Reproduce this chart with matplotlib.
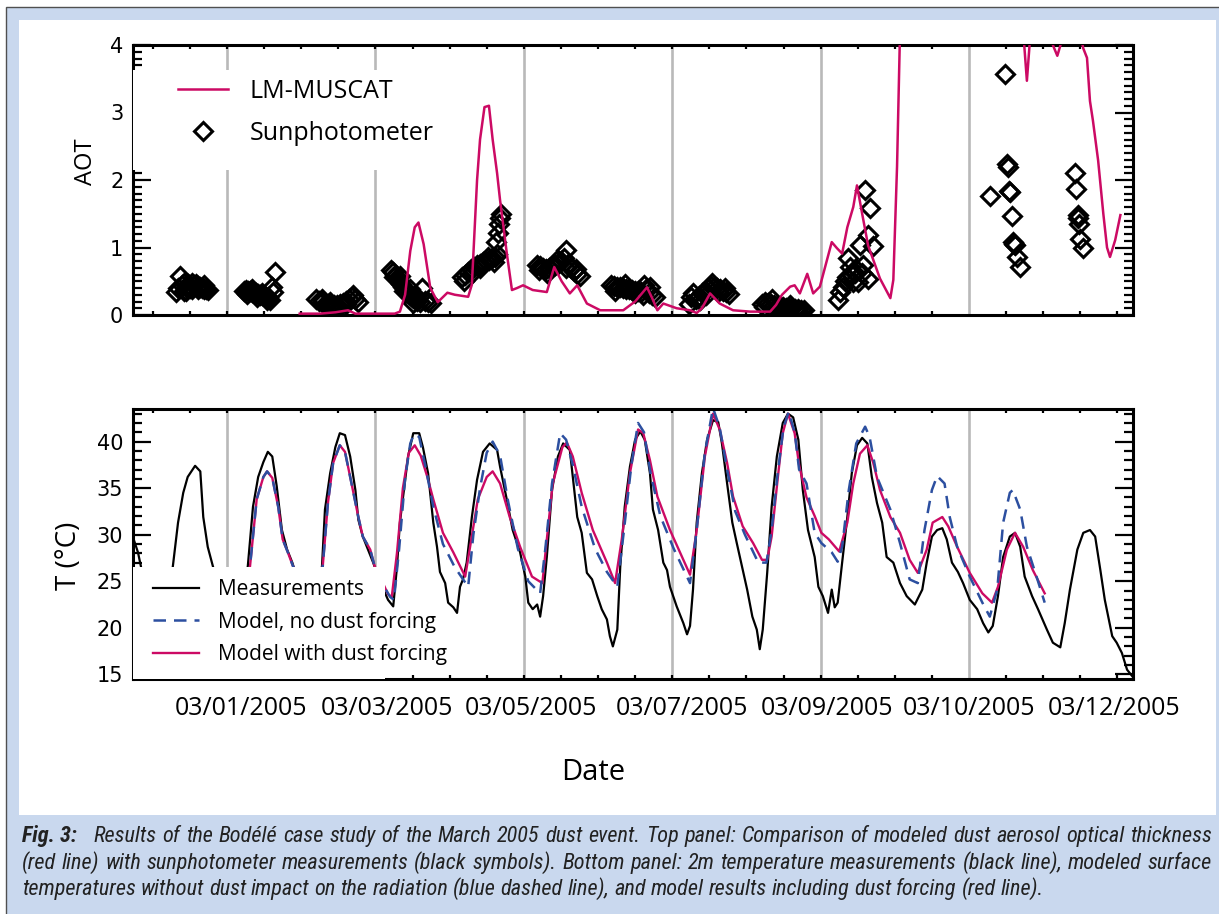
import numpy as np
import matplotlib
matplotlib.use("Agg")
import matplotlib.pyplot as plt
from matplotlib import font_manager
from matplotlib.patches import Rectangle
from matplotlib.ticker import MultipleLocator

# time axis: days after 03/01/2005 00 UTC

# LM-MUSCAT aerosol optical thickness
aot_model_t = [0.98, 1.25, 1.46, 1.63, 1.73, 2.26, 2.33, 2.40, 2.47, 2.53, 2.58, 2.65, 2.74, 2.84, 2.97,
               3.07, 3.25, 3.30, 3.37, 3.41, 3.47, 3.53, 3.58, 3.64, 3.68, 3.77, 3.84, 3.91, 3.99, 4.12,
               4.31, 4.41, 4.51, 4.62, 4.72, 4.85, 5.03, 5.34, 5.50, 5.66, 5.73, 5.80, 5.88, 6.06, 6.24,
               6.33, 6.40, 6.51, 6.64, 6.82, 7.05, 7.32, 7.40, 7.48, 7.59, 7.65, 7.72, 7.82, 7.90, 7.99,
               8.07, 8.15, 8.22, 8.29, 8.36, 8.44, 8.49, 8.56, 8.64, 8.80, 8.94, 8.98, 9.03, 9.07, 9.20,
               9.74, 10.42, 10.71, 10.78, 10.85, 11.02, 11.13, 11.19, 11.26, 11.38, 11.49, 11.54, 11.59,
               11.63, 11.67, 11.74, 11.81, 11.86, 11.90, 11.97, 12.04]
aot_model = [0.02, 0.02, 0.04, 0.07, 0.02, 0.02, 0.05, 0.30, 0.95, 1.30, 1.37, 1.05, 0.40, 0.19, 0.33,
             0.30, 0.27, 0.45, 2.00, 2.60, 3.08, 3.10, 2.60, 2.10, 1.70, 0.92, 0.37, 0.40, 0.44, 0.37,
             0.34, 0.71, 0.50, 0.32, 0.44, 0.17, 0.07, 0.07, 0.20, 0.41, 0.25, 0.07, 0.17, 0.10, 0.07,
             0.03, 0.10, 0.32, 0.17, 0.07, 0.05, 0.05, 0.15, 0.30, 0.42, 0.44, 0.32, 0.61, 0.32, 0.42,
             0.75, 1.08, 0.99, 0.91, 1.30, 1.60, 1.92, 1.50, 1.03, 0.54, 0.25, 0.52, 2.20, 4.20, 6.00,
             7.00, 6.50, 4.50, 3.47, 4.50, 5.50, 4.00, 3.84, 4.10, 5.00, 4.20, 3.95, 3.81,
             3.17, 2.88, 2.29, 1.50, 1.00, 0.86, 1.11, 1.48]

# sunphotometer AOT
sun_t = [-0.687, -0.660, -0.634, -0.606, -0.580, -0.553, -0.526, -0.499, -0.472, -0.445, -0.418, -0.391,
         -0.364, -0.337, -0.310, -0.283, -0.256, -0.553, -0.472, -0.391, -0.310, -0.580,
         0.229, 0.256, 0.283, 0.310, 0.337, 0.364, 0.391, 0.418, 0.445, 0.472, 0.499, 0.526, 0.553, 0.580,
         0.606, 0.620, 0.647, 0.270, 0.337, 0.404, 0.472, 0.539,
         1.199, 1.240, 1.280, 1.321, 1.361, 1.402, 1.442, 1.482, 1.523, 1.563, 1.604, 1.644, 1.685, 1.725, 1.765,
         1.280, 1.388, 1.496, 1.604, 1.698,
         2.210, 2.237, 2.264, 2.291, 2.318, 2.345, 2.372, 2.399, 2.426, 2.453, 2.480, 2.507, 2.534, 2.561,
         2.601, 2.628, 2.668, 2.709, 2.749, 2.251, 2.332, 2.385, 2.466, 2.547, 2.507,
         3.167, 3.208, 3.248, 3.288, 3.329, 3.369, 3.410, 3.450, 3.491, 3.531, 3.571, 3.612, 3.639, 3.625,
         3.652, 3.666, 3.679, 3.693, 3.194, 3.302, 3.410, 3.518, 3.598,
         4.178, 4.218, 4.259, 4.299, 4.340, 4.380, 4.420, 4.461, 4.501, 4.542, 4.569, 4.596, 4.636, 4.677,
         4.717, 4.757, 4.205, 4.313, 4.434, 4.569, 4.704,
         5.175, 5.216, 5.256, 5.296, 5.337, 5.377, 5.418, 5.458, 5.499, 5.539, 5.580, 5.620, 5.647, 5.687,
         5.728, 5.768, 5.229, 5.364, 5.499, 5.607, 5.701,
         6.226, 6.253, 6.280, 6.321, 6.361, 6.402, 6.442, 6.482, 6.523, 6.563, 6.604, 6.644, 6.685, 6.725, 6.765,
         6.375, 6.456, 6.536, 6.617, 6.711,
         7.210, 7.251, 7.291, 7.332, 7.372, 7.412, 7.453, 7.493, 7.534, 7.574, 7.615, 7.655, 7.695, 7.736, 7.776,
         7.237, 7.345, 7.453, 7.588, 7.695,
         8.234, 8.261, 8.302, 8.329, 8.356, 8.369, 8.396, 8.423, 8.437, 8.464, 8.491, 8.504, 8.531, 8.558,
         8.571, 8.598, 8.639, 8.639, 8.666, 8.706,
         10.283, 10.485, 10.512, 10.526, 10.539, 10.553, 10.580, 10.593, 10.606, 10.620, 10.647, 10.687,
         11.429, 11.442, 11.469, 11.469, 11.482, 11.496, 11.536]
sun_aot = [0.34, 0.40, 0.58, 0.44, 0.36, 0.42, 0.46, 0.40, 0.38, 0.44, 0.46, 0.43, 0.42, 0.40, 0.38, 0.39, 0.37,
           0.36, 0.47, 0.38, 0.44, 0.48,
           0.36, 0.37, 0.36, 0.35, 0.34, 0.33, 0.32, 0.31, 0.30, 0.29, 0.28, 0.27, 0.26, 0.22, 0.41, 0.34, 0.64,
           0.31, 0.39, 0.27, 0.33, 0.22,
           0.24, 0.21, 0.19, 0.17, 0.16, 0.15, 0.15, 0.15, 0.16, 0.18, 0.21, 0.24, 0.26, 0.23, 0.20,
           0.24, 0.20, 0.11, 0.17, 0.30,
           0.66, 0.63, 0.60, 0.55, 0.50, 0.46, 0.42, 0.38, 0.34, 0.31, 0.28, 0.25, 0.23, 0.21, 0.20, 0.40,
           0.21, 0.19, 0.18, 0.56, 0.58, 0.35, 0.38, 0.28, 0.18,
           0.56, 0.60, 0.64, 0.68, 0.71, 0.74, 0.76, 0.78, 0.80, 0.82, 0.84, 0.86, 0.90, 1.08, 1.22, 1.35,
           1.43, 1.50, 0.51, 0.62, 0.70, 0.86, 0.78,
           0.74, 0.72, 0.70, 0.68, 0.70, 0.72, 0.74, 0.76, 0.80, 0.84, 0.96, 0.76, 0.70, 0.65, 0.61, 0.58,
           0.66, 0.62, 0.80, 0.70, 0.68,
           0.44, 0.43, 0.42, 0.41, 0.40, 0.39, 0.38, 0.37, 0.36, 0.35, 0.34, 0.44, 0.38, 0.33, 0.30, 0.27,
           0.36, 0.46, 0.32, 0.30, 0.42,
           0.16, 0.26, 0.32, 0.24, 0.28, 0.32, 0.36, 0.40, 0.43, 0.42, 0.40, 0.38, 0.36, 0.34, 0.31,
           0.22, 0.30, 0.48, 0.34, 0.40,
           0.17, 0.19, 0.18, 0.16, 0.15, 0.14, 0.13, 0.12, 0.11, 0.11, 0.10, 0.09, 0.09, 0.08, 0.07,
           0.12, 0.23, 0.08, 0.15, 0.05,
           0.22, 0.34, 0.42, 0.50, 0.56, 0.84, 0.71, 0.60, 0.49, 0.62, 0.66, 0.49, 1.03, 0.62, 0.74, 1.85,
           1.18, 0.54, 1.58, 1.02,
           1.77, 3.57, 2.24, 2.19, 1.84, 1.82, 1.46, 1.08, 1.05, 1.03, 0.86, 0.71,
           2.11, 1.87, 1.48, 1.43, 1.35, 1.13, 0.99]

# 2m temperature measurements
meas_t = [-1.27, -1.20, -1.15, -1.04, -0.90, -0.80, -0.73, -0.66, -0.59, -0.53, -0.43, -0.36, -0.32, -0.26,
          -0.19, -0.07, 0.07, 0.20, 0.28, 0.35, 0.42, 0.49, 0.55, 0.61, 0.67, 0.74, 0.81, 0.88, 0.98, 1.09,
          1.20, 1.28, 1.32, 1.39, 1.46, 1.52, 1.59, 1.66, 1.73, 1.77, 1.83, 1.90, 1.97, 2.06, 2.17, 2.24,
          2.29, 2.33, 2.44, 2.51, 2.59, 2.64, 2.71, 2.78, 2.83, 2.87, 2.94, 2.98, 3.05, 3.10, 3.14, 3.18,
          3.23, 3.30, 3.37, 3.45, 3.54, 3.64, 3.68, 3.77, 3.85, 3.95, 4.02, 4.06, 4.12, 4.18, 4.22, 4.26,
          4.31, 4.38, 4.46, 4.53, 4.62, 4.66, 4.72, 4.78, 4.85, 4.92, 4.99, 5.05, 5.12, 5.16, 5.20, 5.26,
          5.30, 5.36, 5.43, 5.50, 5.57, 5.63, 5.70, 5.74, 5.81, 5.88, 5.93, 5.97, 6.06, 6.15, 6.20, 6.24,
          6.28, 6.33, 6.40, 6.47, 6.55, 6.62, 6.67, 6.74, 6.81, 6.87, 6.94, 7.01, 7.08, 7.14, 7.18, 7.22,
          7.28, 7.34, 7.41, 7.49, 7.56, 7.63, 7.70, 7.76, 7.83, 7.92, 7.97, 8.03, 8.10, 8.15, 8.19, 8.23,
          8.29, 8.36, 8.42, 8.49, 8.56, 8.63, 8.69, 8.76, 8.83, 8.89, 8.98, 9.07, 9.16, 9.27, 9.37, 9.43,
          9.50, 9.57, 9.64, 9.70, 9.77, 9.85, 9.92, 10.01, 10.11, 10.19, 10.26, 10.32, 10.39, 10.46, 10.55,
          10.62, 10.69, 10.75, 10.85, 10.93, 11.05, 11.13, 11.23, 11.29, 11.36, 11.46, 11.54, 11.63, 11.70,
          11.77, 11.83, 11.93, 11.99, 12.06, 12.13, 12.20]
meas_T = [29.8, 28.1, 26.2, 23.5, 22.5, 24.0, 26.6, 31.3, 34.5, 36.2, 37.4, 36.8, 31.9, 28.7,
          26.6, 23.5, 22.0, 23.0, 26.6, 33.0, 36.2, 37.8, 38.9, 38.4, 35.2, 30.5, 28.4, 27.0, 24.5, 23.0,
          24.0, 26.6, 32.7, 36.6, 39.4, 40.9, 40.7, 38.4, 34.8, 31.6, 29.8, 28.4, 27.0, 25.0, 23.0, 22.3,
          26.5, 31.3, 38.4, 40.9, 40.9, 39.4, 36.6, 31.3, 28.7, 26.0, 24.8, 22.7, 22.2, 21.6, 24.4, 25.2,
          27.0, 31.9, 35.9, 38.9, 39.8, 39.1, 37.3, 33.8, 30.5, 28.1, 25.5, 22.7, 22.0, 22.5, 21.2, 23.4,
          27.6, 34.8, 38.4, 39.8, 39.1, 36.2, 31.9, 30.2, 25.9, 25.2, 23.4, 22.0, 20.9, 19.1, 18.0, 19.8,
          26.6, 33.0, 37.3, 40.2, 41.1, 40.2, 36.6, 32.7, 30.5, 27.0, 26.2, 24.4, 22.3, 20.5, 19.3, 20.2,
          24.1, 31.3, 36.6, 40.2, 42.3, 42.1, 39.8, 35.5, 31.3, 29.1, 26.6, 24.1, 21.2, 19.8, 17.7, 19.8,
          25.9, 33.0, 38.4, 42.0, 43.0, 42.6, 40.2, 34.8, 30.5, 27.6, 24.4, 23.4, 21.6, 24.1, 22.2, 22.7,
          27.0, 31.9, 36.6, 39.6, 40.4, 39.8, 36.2, 33.4, 31.3, 27.6, 27.0, 24.8, 23.4, 22.5, 24.1, 27.0,
          29.8, 30.5, 30.7, 29.5, 27.0, 26.0, 24.8, 23.0, 22.0, 20.5, 19.5, 20.2, 23.4, 27.6, 29.8,
          30.2, 28.7, 25.5, 23.4, 22.0, 19.8, 18.4, 17.9, 20.5, 24.1, 28.4, 30.2, 30.5, 29.8,
          26.2, 23.0, 19.1, 18.4, 17.3, 15.5, 14.8]

# model without dust forcing
nodust_t = [0.22, 0.31, 0.40, 0.49, 0.54, 0.61, 0.69, 0.75, 0.82, 0.89, 1.05, 1.19, 1.29, 1.36, 1.43, 1.52,
            1.59, 1.66, 1.77, 1.83, 1.93, 1.99, 2.09, 2.20, 2.25, 2.32, 2.40, 2.47, 2.52, 2.59, 2.67, 2.78,
            2.91, 3.07, 3.25, 3.32, 3.41, 3.50, 3.58, 3.68, 3.79, 3.92, 4.06, 4.22, 4.29, 4.38, 4.49, 4.57,
            4.66, 4.78, 4.96, 5.12, 5.26, 5.35, 5.45, 5.54, 5.62, 5.71, 5.84, 6.02, 6.24, 6.33, 6.44, 6.55,
            6.64, 6.74, 6.85, 6.98, 7.16, 7.27, 7.34, 7.42, 7.50, 7.57, 7.65, 7.71, 7.81, 7.92, 8.01, 8.15,
            8.23, 8.29, 8.38, 8.48, 8.60, 8.66, 8.76, 8.94, 9.07, 9.20, 9.31, 9.40, 9.50, 9.57, 9.67, 9.74,
            9.84, 10.01, 10.18, 10.28, 10.38, 10.46, 10.55, 10.59, 10.69, 10.78, 10.91, 11.02]
nodust_T = [23.0, 26.6, 33.8, 36.2, 36.8, 36.1, 33.0, 29.5, 28.1, 26.6, 24.5, 23.5, 26.6, 33.4, 37.7, 39.6,
            38.9, 36.2, 31.9, 29.8, 28.4, 26.6, 24.8, 23.3, 23.0, 28.5, 36.0, 39.8, 40.8, 40.5, 37.5, 33.0,
            29.0, 26.5, 24.4, 30.0, 35.0, 38.8, 40.0, 38.5, 33.5, 28.5, 25.0, 23.7, 28.5, 35.5, 40.9, 40.2,
            37.5, 33.0, 28.5, 26.0, 24.4, 30.5, 37.5, 42.0, 41.0, 36.5, 32.0, 28.5, 24.8, 30.5, 38.8, 43.6,
            41.5, 37.0, 32.5, 30.0, 27.0, 27.0, 30.5, 36.5, 41.5, 43.2, 41.0, 37.0, 35.5, 30.2, 29.1, 28.1,
            27.1, 28.7, 34.8, 39.8, 41.6, 40.5, 36.2, 32.7, 29.1, 25.2, 24.8, 30.5, 34.8, 36.3, 35.5, 31.9,
            28.7, 25.5, 22.7, 21.2, 24.1, 31.3, 34.5, 34.8, 32.7, 28.7, 25.5, 22.7]

# model with dust forcing
dust_t = [0.22, 0.31, 0.40, 0.49, 0.54, 0.61, 0.69, 0.75, 0.82, 0.89, 1.05, 1.19, 1.29, 1.36, 1.43, 1.52,
          1.59, 1.66, 1.77, 1.83, 1.93, 1.99, 2.09, 2.17, 2.22, 2.29, 2.37, 2.45, 2.53, 2.61, 2.70, 2.78,
          2.91, 3.05, 3.21, 3.27, 3.38, 3.50, 3.58, 3.68, 3.81, 3.95, 4.11, 4.25, 4.31, 4.39, 4.52, 4.58,
          4.66, 4.78, 4.93, 5.12, 5.23, 5.32, 5.43, 5.54, 5.61, 5.70, 5.80, 5.97, 6.15, 6.24, 6.33, 6.44,
          6.55, 6.64, 6.74, 6.82, 6.95, 7.09, 7.21, 7.28, 7.34, 7.42, 7.49, 7.56, 7.65, 7.71, 7.81, 7.92,
          8.01, 8.11, 8.25, 8.36, 8.44, 8.53, 8.63, 8.71, 8.80, 8.94, 9.07, 9.20, 9.31, 9.43, 9.51, 9.64,
          9.72, 9.84, 10.01, 10.18, 10.31, 10.39, 10.51, 10.62, 10.73, 10.86, 11.02]
dust_T = [23.0, 26.6, 33.8, 36.2, 36.8, 36.1, 33.0, 29.5, 28.1, 26.6, 24.5, 23.5, 26.6, 33.4, 37.7, 39.6,
          38.9, 36.2, 31.9, 29.8, 28.4, 26.6, 25.0, 23.6, 23.3, 28.0, 35.0, 38.8, 39.6, 38.5, 36.2, 33.8,
          30.2, 28.1, 25.5, 28.4, 33.8, 36.2, 36.8, 35.5, 31.9, 28.7, 25.5, 24.8, 29.5, 35.5, 39.4, 39.9,
          38.4, 34.5, 30.5, 27.0, 24.8, 29.5, 36.6, 41.3, 40.9, 38.0, 34.1, 30.5, 27.3, 25.7, 30.5, 38.4,
          43.0, 41.3, 37.7, 34.1, 30.9, 29.1, 27.3, 27.3, 29.8, 35.9, 40.9, 43.0, 40.9, 37.5, 34.0, 32.0,
          30.2, 29.5, 28.2, 31.3, 35.5, 38.7, 39.6, 37.7, 34.8, 31.9, 30.2, 27.3, 25.9, 28.4, 31.3, 31.9,
          30.9, 28.7, 25.9, 23.7, 22.7, 24.4, 28.4, 30.2, 28.7, 26.2, 23.7]

day_lines = [0, 2, 4, 6, 8, 10]
date_labels = ["03/01/2005", "03/03/2005", "03/05/2005", "03/07/2005",
               "03/09/2005", "03/10/2005", "03/12/2005"]
date_label_pos = [0.19, 2.16, 4.10, 6.13, 8.09, 10.0, 11.96]

caption_lines = [
    "Results of the Bodélé case study of the March 2005 dust event. Top panel: Comparison of modeled dust aerosol optical thickness",
    "(red line) with sunphotometer measurements (black symbols). Bottom panel: 2m temperature measurements (black line), modeled surface",
    "temperatures without dust impact on the radiation (blue dashed line), and model results including dust forcing (red line).",
]

W, H = 1219, 914
RED = "#cc0a64"
BLUE = "#2c4fa0"
GREY = "#b9b9b9"
BAND = "#c9d8ee"


def fig_rect(fig, x0, y0, x1, y1, z, **kw):
    fig.patches.append(Rectangle((x0 / W, 1 - y1 / H), (x1 - x0) / W, (y1 - y0) / H,
                                 transform=fig.transFigure, figure=fig, zorder=z, **kw))


def style_axis(ax):
    ax.set_xlim(-1.267, 12.21)
    for s in ax.spines.values():
        s.set_linewidth(2.2)
    ax.xaxis.set_minor_locator(MultipleLocator(0.5))
    ax.set_xticks(date_label_pos)
    ax.tick_params(which="both", direction="in", top=True, right=True, width=1.6)
    ax.tick_params(axis="x", which="minor", length=3)
    ax.tick_params(axis="x", which="major", length=0, pad=12, labelsize=18)
    ax.tick_params(axis="y", which="major", length=13, pad=7, labelsize=15)
    ax.tick_params(axis="y", which="minor", length=6.5)
    for d in day_lines:
        ax.axvline(d, color=GREY, lw=1.9, zorder=0.5)


def pick_caption_font():
    entries = font_manager.fontManager.ttflist
    names = {f.name for f in entries}
    for fam in ["Liberation Sans Narrow", "Roboto Condensed", "Open Sans Condensed"]:
        if fam in names:
            return dict(fontfamily=fam)
    if any(f.name == "DejaVu Sans" and "condensed" in str(f.stretch) for f in entries):
        return dict(fontfamily="DejaVu Sans", fontstretch="condensed")
    return dict(fontfamily="Liberation Sans")


def justify(fig, words, x0, x1, y, **kw):
    r = fig.canvas.get_renderer()
    texts = [fig.text(0, 1 - y / H, w, va="baseline", **kw) for w in words]
    widths = [t.get_window_extent(r).width for t in texts]
    gap = (x1 - x0 - sum(widths)) / (len(words) - 1)
    x = x0
    for t, w in zip(texts, widths):
        t.set_x(x / W)
        x += w + gap
    return texts


if __name__ == "__main__":
    plt.rcParams["font.family"] = ["Open Sans", "DejaVu Sans"]
    fig = plt.figure(figsize=(W / 100, H / 100), dpi=100)
    fig.patch.set_facecolor("white")

    fig_rect(fig, 6, 7, 1222, 918, -3, facecolor=BAND, edgecolor="#505050", lw=1)
    fig_rect(fig, 19, 20, 1216, 815, -2, facecolor="white", edgecolor="none")

    # ---- top panel: AOT
    ax1 = fig.add_axes([133 / W, 1 - 315 / H, 1000 / W, 270 / H])
    style_axis(ax1)
    ax1.set_ylim(0, 4)
    ax1.set_yticks([0, 1, 2, 3, 4])
    ax1.yaxis.set_minor_locator(MultipleLocator(0.1))
    ax1.tick_params(axis="x", labelbottom=False)
    sun, = ax1.plot(sun_t, sun_aot, ls="none", marker="D", ms=8.8, mfc="none",
                    mec="black", mew=2.2, zorder=2)
    mod, = ax1.plot(aot_model_t, aot_model, color=RED, lw=1.8, zorder=3)
    ax1.add_patch(Rectangle((0, 0.537), 0.30, 0.37, transform=ax1.transAxes,
                            fc="white", ec="none", zorder=3.5))
    leg1 = ax1.legend([mod, sun], ["LM-MUSCAT", "Sunphotometer"], loc="upper left",
                      bbox_to_anchor=(0.045, 0.874), frameon=False, fontsize=18,
                      handlelength=2.0, handletextpad=0.88, labelspacing=0.67,
                      borderpad=0, borderaxespad=0, numpoints=1)
    leg1.set_zorder(5)
    ax1.set_ylabel("AOT", fontsize=17)
    ax1.yaxis.set_label_coords(-0.035, 0.567)

    # ---- bottom panel: temperature
    ax2 = fig.add_axes([133 / W, 1 - 679 / H, 1000 / W, 270 / H])
    style_axis(ax2)
    ax2.set_ylim(14.5, 43.5)
    ax2.set_yticks([15, 20, 25, 30, 35, 40])
    ax2.yaxis.set_minor_locator(MultipleLocator(1))
    ax2.set_xticklabels(date_labels)
    meas, = ax2.plot(meas_t, meas_T, color="black", lw=1.6, zorder=2)
    dust, = ax2.plot(dust_t, dust_T, color=RED, lw=1.7, zorder=2.2)
    nodust, = ax2.plot(nodust_t, nodust_T, color=BLUE, lw=1.8, dashes=(5, 3.2), zorder=2.4)
    ax2.add_patch(Rectangle((0, 0), 0.252, 0.415, transform=ax2.transAxes,
                            fc="white", ec="none", zorder=3.5))
    leg2 = ax2.legend([meas, nodust, dust],
                      ["Measurements", "Model, no dust forcing", "Model with dust forcing"],
                      loc="upper left", bbox_to_anchor=(0.02, 0.37), frameon=False, fontsize=15,
                      handlelength=2.2, handletextpad=0.9, labelspacing=0.56,
                      borderpad=0, borderaxespad=0)
    leg2.set_zorder(5)
    ax2.set_ylabel("T (°C)", fontsize=20)
    ax2.yaxis.set_label_coords(-0.05, 0.455)

    for ax in (ax1, ax2):
        for lab in ax.get_yticklabels():
            lab.set_fontfamily("DejaVu Sans")

    fig.text(593 / W, 1 - 772 / H, "Date", ha="center", va="center", fontsize=21)

    # ---- caption, justified like the printed figure
    r = fig.canvas.get_renderer()
    cap_kw = dict(style="italic", color="#222222", **pick_caption_font())
    size = 13.5
    probe = fig.text(0, 0, caption_lines[1], fontsize=size, **cap_kw)
    natural = probe.get_window_extent(r).width
    probe.remove()
    size = size * 1175 / natural
    cap_kw["fontsize"] = size
    head = fig.text(22 / W, 1 - 842 / H, "Fig. 3:", va="baseline", weight="bold", **cap_kw)
    head_w = head.get_window_extent(r).width
    justify(fig, caption_lines[0].split(" "), 22 + head_w + 17, 1212, 842, **cap_kw)
    justify(fig, caption_lines[1].split(" "), 22, 1212, 869, **cap_kw)
    x = 22
    for w in caption_lines[2].split(" "):
        t = fig.text(x / W, 1 - 895 / H, w, va="baseline", **cap_kw)
        x += t.get_window_extent(r).width + size * 0.3

    fig.savefig("out.png", dpi=100)
